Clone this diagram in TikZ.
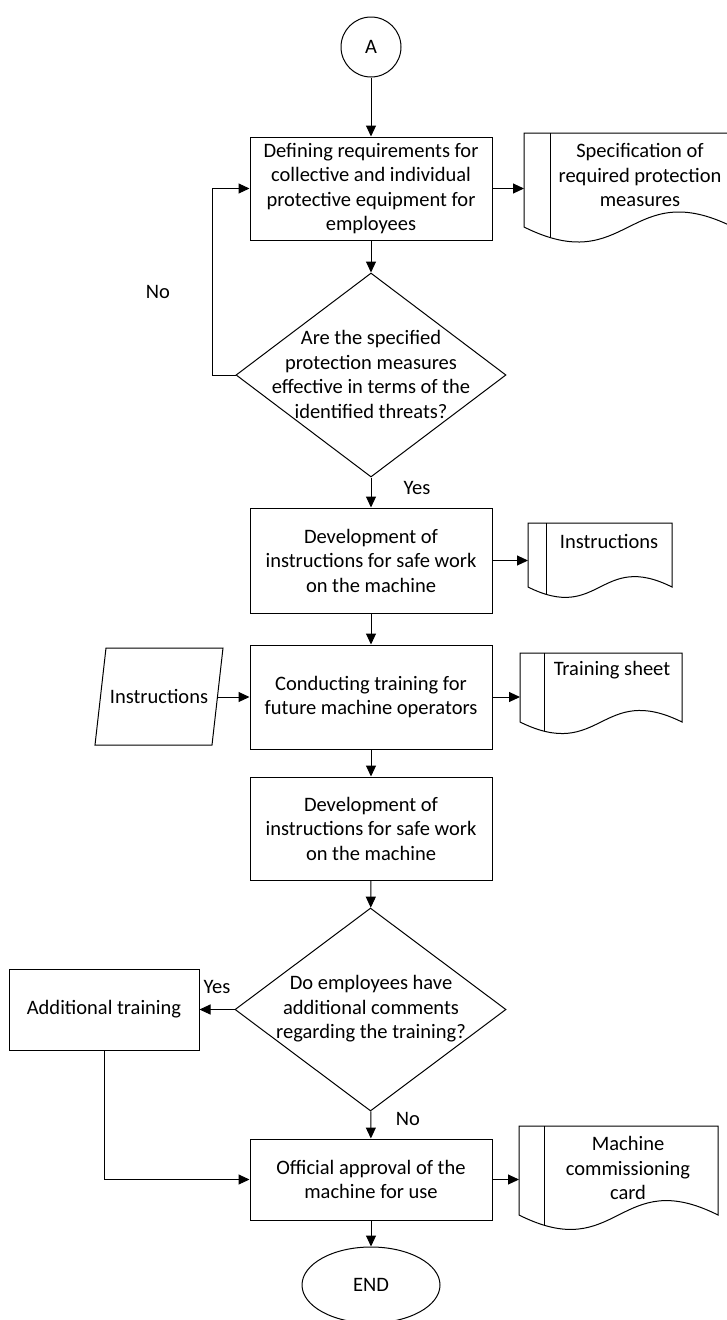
\documentclass[tikz,border=0pt]{standalone}
\usepackage{fontspec}
\setmainfont{Carlito}
\usetikzlibrary{arrows.meta,shapes.geometric,calc}
\newcommand\docshp[7]{% L T R B inner a name
  \draw (#1,#2) -- (#3,#2) -- (#3,#4) .. controls ({(#1+#3)/2},{#4-#6}) and ({(#1+#3)/2},{#4+#6}) .. (#1,#4) -- cycle;
  \begin{scope}
    \clip (#1,#2) -- (#3,#2) -- (#3,#4) .. controls ({(#1+#3)/2},{#4-#6}) and ({(#1+#3)/2},{#4+#6}) .. (#1,#4) -- cycle;
    \draw (#5,#2) -- (#5,{#4+#6});
  \end{scope}
  \coordinate (#7) at (#1,{(#2+#4)/2});
}
\begin{document}
\begin{tikzpicture}[x=1pt,y=-1pt,line width=1pt,
  font=\fontsize{20.5}{24.5}\selectfont,
  box/.style={draw,rectangle,inner sep=0pt,align=center,minimum width=242pt},
  dia/.style={draw,diamond,inner sep=0pt,minimum width=270pt,minimum height=204pt},
  txt/.style={inner sep=0pt,align=center},
  arr/.style={-{Triangle[length=11pt,width=10pt]}}]
\useasboundingbox (0,0) rectangle (727,1320);

% start
\node[draw,circle,minimum size=60pt,inner sep=0pt] (A) at (371,47) {A};

% box 1
\node[box,minimum height=103pt] (b1) at (371,188.5) {Defining requirements for\\collective and individual\\protective equipment for\\employees};
\docshp{524}{133}{733}{227}{550}{52}{doc1}
\node[txt] (doc1t) at (640,175) {Specification of\\required protection\\measures};

% decision 1
\node[dia] (d1) at (371,375) {};
\node[txt] (d1t) at (371,374.5) {Are the specified\\protection measures\\effective in terms of the\\identified threats?};
\node[txt] (no1) at (158,292) {No};
\node[txt] (yes1) at (417,488) {Yes};

% box 2
\node[box,minimum height=105pt] (b2) at (371,560.5) {Development of\\instructions for safe work\\on the machine};
\docshp{528}{523}{672}{587}{546}{36}{doc2}
\node[txt] (doc2t) at (609,541) {Instructions};

% box 3
\node[box,minimum height=104pt] (b3) at (371,697) {Conducting training for\\future machine operators};
\draw (106,648) -- (223,648) -- (212,745) -- (95,745) -- cycle;
\node[txt] (par) at (159,696.5) {Instructions};
\coordinate (parR) at (217.5,697);
\docshp{520}{653}{682}{722}{544}{40}{doc3}
\node[txt] (doc3t) at (612,670) {Training sheet};

% box 4
\node[box,minimum height=103pt] (b4) at (371,828.5) {Development of\\instructions for safe work\\on the machine};

% decision 2
\node[dia,minimum width=271pt,minimum height=203pt] (d2) at (370.5,1009.5) {};
\node[txt] (d2t) at (371,1009) {Do employees have\\additional comments\\regarding the training?};
\node[txt] (yes2) at (217,987) {Yes};
\node[txt] (no2) at (408,1119) {No};
\node[box,minimum width=190pt,minimum height=81pt] (add) at (104,1009.5) {Additional training};

% box 5
\node[box,minimum height=81pt] (b5) at (371,1179.5) {Official approval of the\\machine for use};
\docshp{519}{1126}{718}{1215}{544}{50}{doc4}
\node[txt] (doc4t) at (628,1168) {Machine\\commissioning\\card};

% end
\node[draw,ellipse,minimum width=138pt,minimum height=76pt,inner sep=0pt] (E) at (371,1285) {END};

% connectors
\draw[arr] (A) -- (b1);
\draw[arr] (b1.east) -- (b1.east -| doc1);
\draw[arr] (b1) -- (d1);
\draw[arr] (d1.west) -- ++(-23,0) |- (b1.west);
\draw[arr] (d1) -- (b2);
\draw[arr] (b2.east) -- (b2.east -| doc2);
\draw[arr] (b2) -- (b3);
\draw[arr] (parR) -- (b3.west);
\draw[arr] (b3.east) -- (b3.east -| doc3);
\draw[arr] (b3) -- (b4);
\draw[arr] (b4) -- (d2);
\draw[arr] (d2.west) -- (add.east);
\draw[arr] (d2) -- (b5);
\draw[arr] (add.south) |- (b5.west);
\draw[arr] (b5.east) -- (b5.east -| doc4);
\draw[arr] (b5) -- (E);
\end{tikzpicture}
\end{document}
